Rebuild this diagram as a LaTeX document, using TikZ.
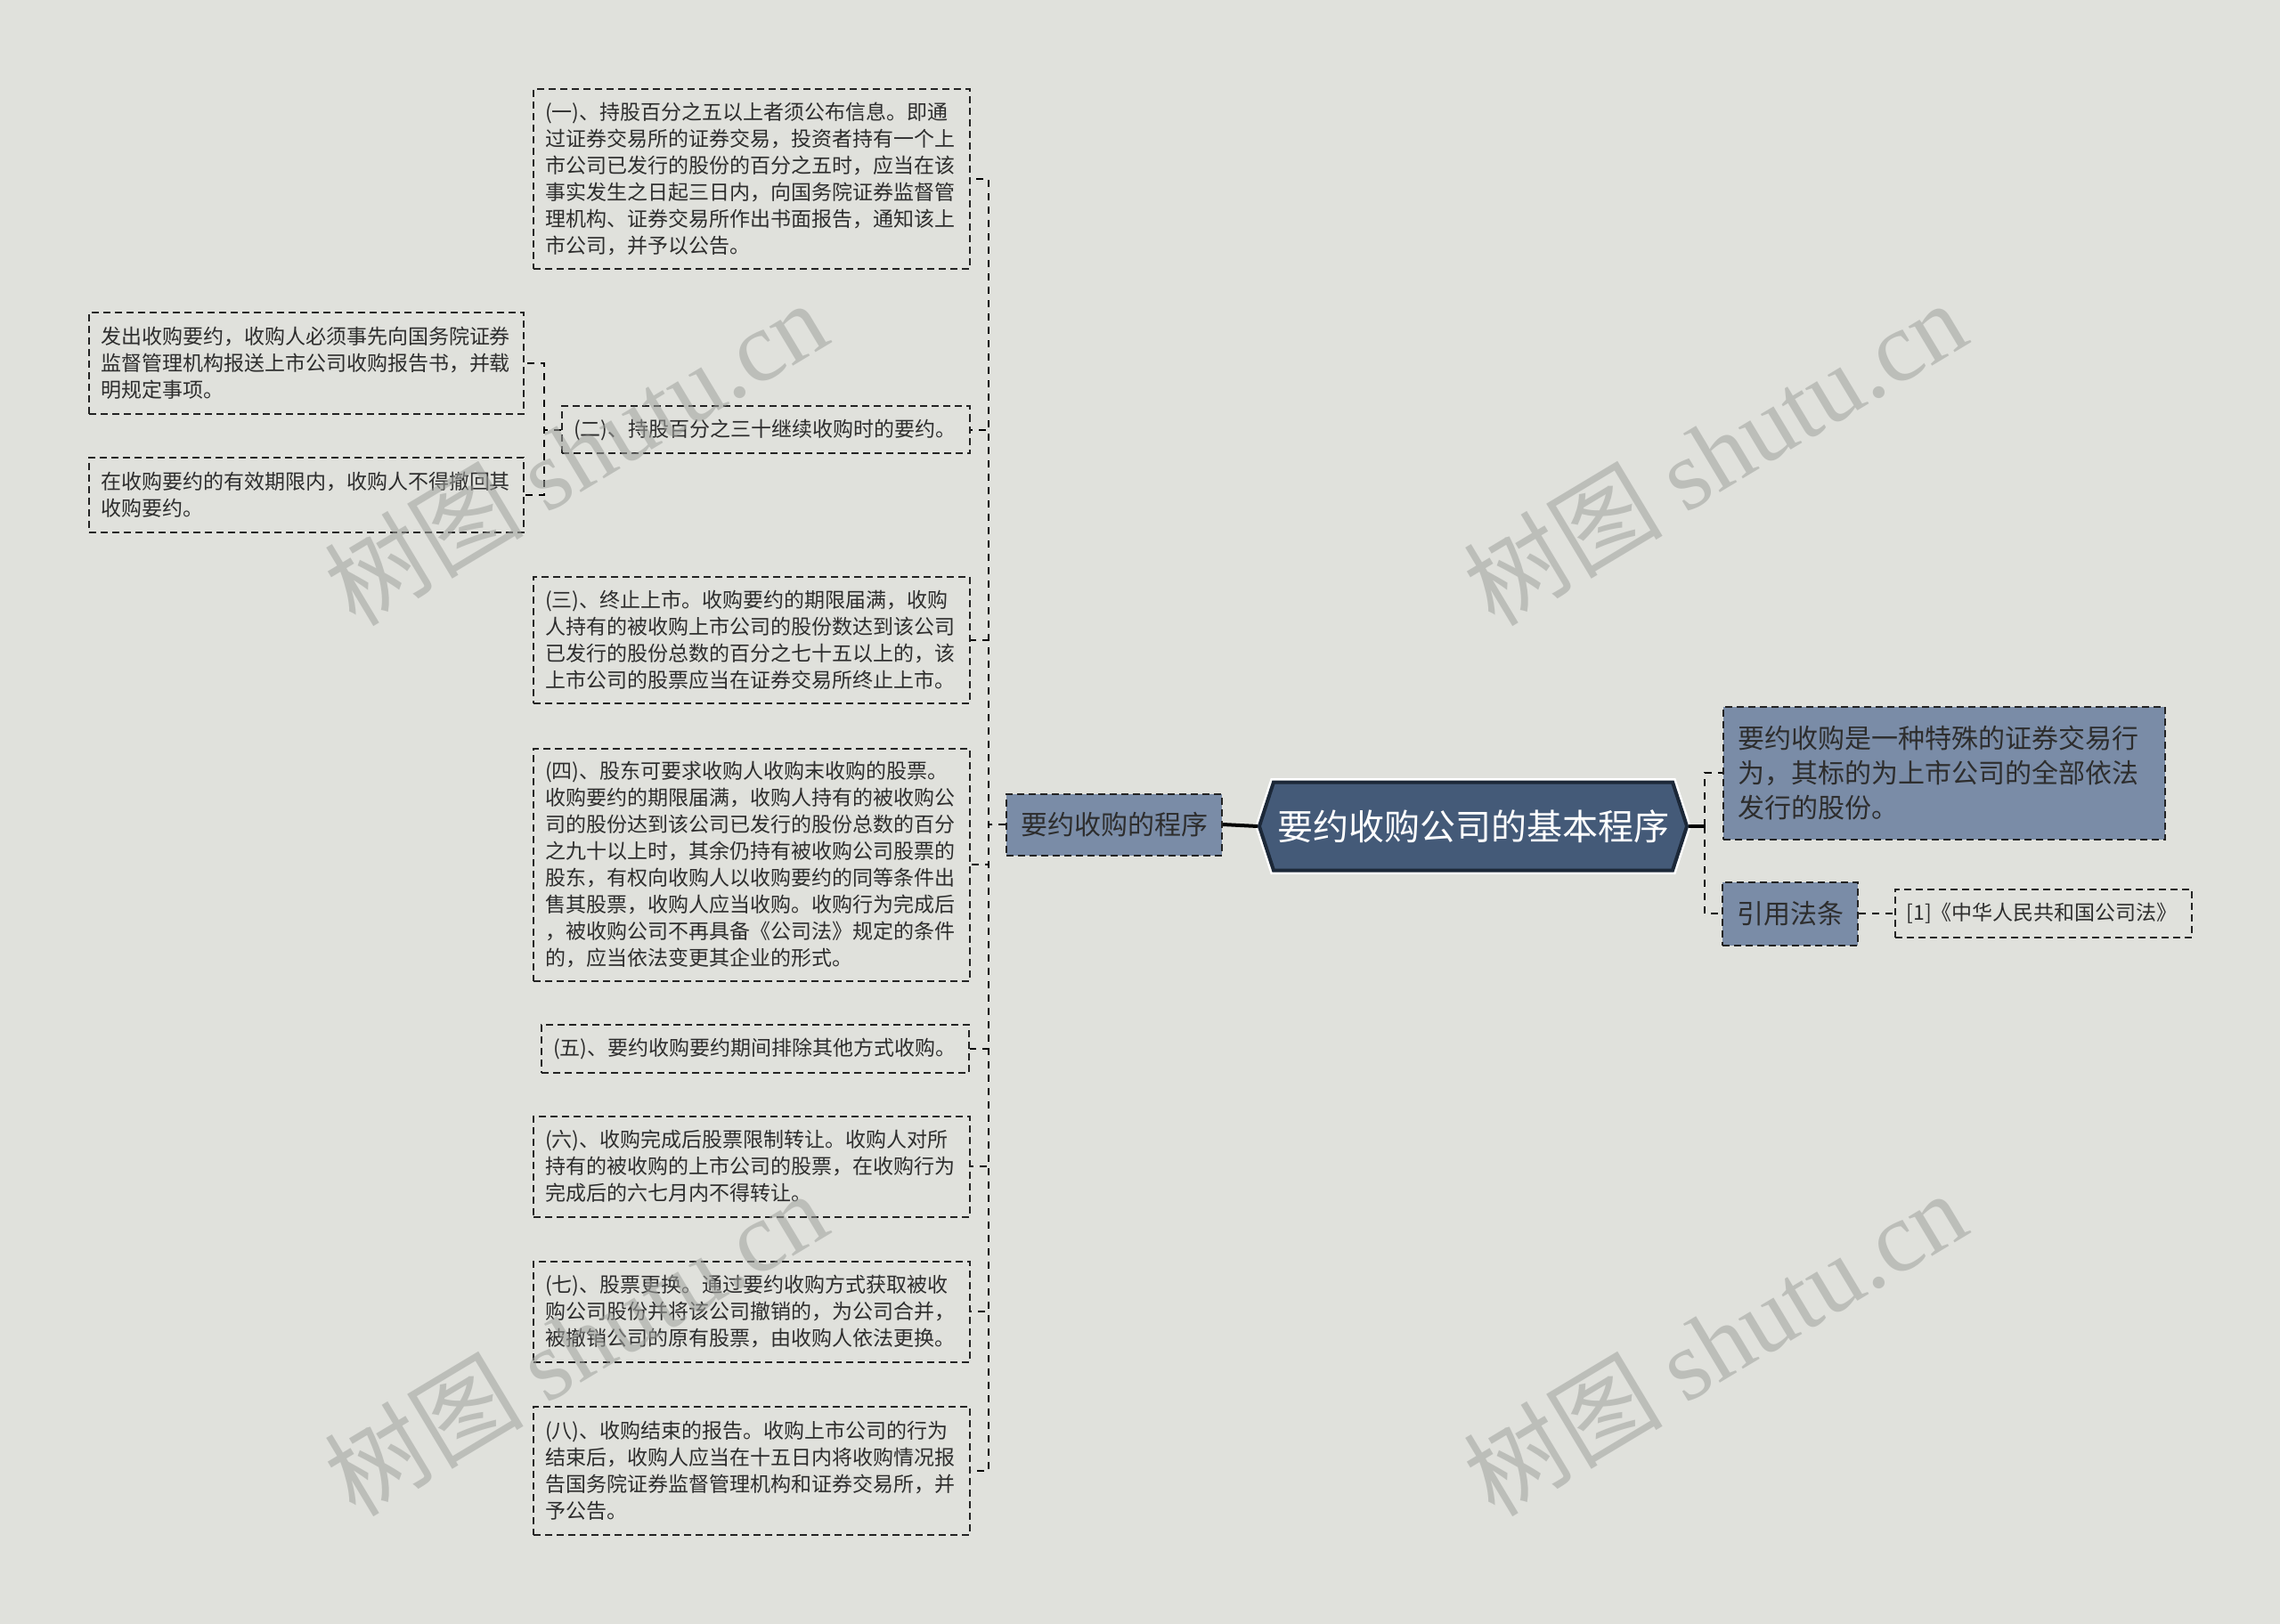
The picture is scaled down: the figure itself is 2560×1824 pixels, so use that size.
\documentclass[tikz,border=0pt]{standalone}
\usepackage{fontspec}
\setmainfont{Noto Sans CJK SC}
\newfontfamily\wmlatin{Liberation Serif}
\usepackage{tikz}
\usetikzlibrary{positioning,shapes.symbols,calc}

\definecolor{bgc}{RGB}{224,225,220}
\definecolor{slate}{RGB}{122,140,167}
\definecolor{navy}{RGB}{68,90,120}
\definecolor{navyedge}{RGB}{28,40,56}
\definecolor{ink}{RGB}{45,45,45}
\definecolor{edge}{RGB}{35,35,35}
\definecolor{wmgray}{RGB}{160,162,158}

\newcommand\leaffont{\fontsize{11.5pt}{15pt}\selectfont}
\newcommand\topicfont{\fontsize{15pt}{19.5pt}\selectfont}
\newcommand\rootfont{\fontsize{20pt}{24pt}\selectfont}

\begin{document}
\begin{tikzpicture}[x=0.5pt,y=-0.5pt,
  leaf/.style={draw=edge, line width=1pt, dash pattern=on 4pt off 2.5pt, text=ink,
    font=\leaffont, align=left, inner xsep=6.5pt, inner ysep=0pt, text width=#1},
  leaf/.default=232pt,
  topic/.style={draw=edge, fill=slate, line width=1pt, dash pattern=on 4pt off 2.5pt,
    text=ink, font=\topicfont, align=left, inner xsep=8pt, inner ysep=0pt},
  link/.style={draw=black, line width=1.3pt, dash pattern=on 4pt off 3.5pt},
  stem/.style={draw=black, line width=2pt},
  stamp/.style={text=wmgray, text opacity=0.55, rotate=31, inner sep=0pt,
    font=\fontsize{56pt}{56pt}\selectfont}]
\fill[bgc] (0,0) rectangle (2560,1824);
\useasboundingbox (0,0) rectangle (2560,1824);

\coordinate (trunkL) at (1110,0);
\coordinate (trunkM) at (611,0);
\coordinate (trunkR) at (1914,0);

\node[shape=signal, signal to=west and east, signal pointer angle=144,
  fill=navy, draw=navyedge, line width=2pt, preaction={draw=white, line width=4.5pt},
  text=white, font=\rootfont, minimum width=240pt, minimum height=49.5pt,
  inner xsep=2pt] (root) at (1654,928) {要约收购公司的基本程序};

\node[topic, minimum width=120pt, minimum height=34.5pt, align=center] (prog) at (1251,926) {要约收购的程序};

\node[leaf, minimum height=101pt] (s1) at (844,201) {(一)、持股百分之五以上者须公布信息。即通\\
过证券交易所的证券交易，投资者持有一个上\\
市公司已发行的股份的百分之五时，应当在该\\
事实发生之日起三日内，向国务院证券监督管\\
理机构、证券交易所作出书面报告，通知该上\\
市公司，并予以公告。};

\node[leaf=216pt, minimum height=26.5pt] (s2) at (860,483) {(二)、持股百分之三十继续收购时的要约。};

\node[leaf=231pt, minimum height=57pt] (c1) at (344,408) {发出收购要约，收购人必须事先向国务院证券\\
监督管理机构报送上市公司收购报告书，并载\\
明规定事项。};

\node[leaf=231pt, minimum height=42pt] (c2) at (344,556) {在收购要约的有效期限内，收购人不得撤回其\\
收购要约。};

\node[leaf, minimum height=71pt] (s3) at (844,719) {(三)、终止上市。收购要约的期限届满，收购\\
人持有的被收购上市公司的股份数达到该公司\\
已发行的股份总数的百分之七十五以上的，该\\
上市公司的股票应当在证券交易所终止上市。};

\node[leaf, minimum height=130.5pt] (s4) at (844,971) {(四)、股东可要求收购人收购末收购的股票。\\
收购要约的期限届满，收购人持有的被收购公\\
司的股份达到该公司已发行的股份总数的百分\\
之九十以上时，其余仍持有被收购公司股票的\\
股东，有权向收购人以收购要约的同等条件出\\
售其股票，收购人应当收购。收购行为完成后\\
，被收购公司不再具备《公司法》规定的条件\\
的，应当依法变更其企业的形式。};

\node[leaf=227pt, minimum height=27pt] (s5) at (848,1178) {(五)、要约收购要约期间排除其他方式收购。};

\node[leaf, minimum height=56.5pt] (s6) at (844,1310) {(六)、收购完成后股票限制转让。收购人对所\\
持有的被收购的上市公司的股票，在收购行为\\
完成后的六七月内不得转让。};

\node[leaf, minimum height=56.5pt] (s7) at (844,1473) {(七)、股票更换。通过要约收购方式获取被收\\
购公司股份并将该公司撤销的，为公司合并，\\
被撤销公司的原有股票，由收购人依法更换。};

\node[leaf, minimum height=72pt] (s8) at (844,1652) {(八)、收购结束的报告。收购上市公司的行为\\
结束后，收购人应当在十五日内将收购情况报\\
告国务院证券监督管理机构和证券交易所，并\\
予公告。};

\node[topic, text width=232pt, minimum height=74.5pt] (defn) at (2183,868) {要约收购是一种特殊的证券交易行\\
为，其标的为上市公司的全部依法\\
发行的股份。};

\node[topic, minimum width=75pt, minimum height=35.5pt] (law) at (2010,1026) {引用法条};

\node[leaf=153.5pt, minimum height=27pt] (ref) at (2294,1026) {[1]《中华人民共和国公司法》};

\draw[stem] (prog.east) -- (root.west);
\draw[stem] (root.east) -- (root.east -| trunkR);
\draw[link] (root.east -| trunkR) |- (defn.west);
\draw[link] (root.east -| trunkR) |- (law.west);
\draw[link] (law.east) -- (ref.west);

\foreach \s in {s1,s2,s3,s4,s5,s6,s7,s8}
  \draw[link] (prog.west) -- (prog.west -| trunkL) |- (\s.east);
\draw[link] (s2.west) -- (s2.west -| trunkM) |- (c1.east);
\draw[link] (s2.west) -- (s2.west -| trunkM) |- (c2.east);

\node[stamp] (w1) at (646,508) {树图 {\wmlatin shutu.cn}};
\node[stamp] (w2) at (1925,508) {树图 {\wmlatin shutu.cn}};
\node[stamp] (w3) at (646,1508) {树图 {\wmlatin shutu.cn}};
\node[stamp] (w4) at (1925,1508) {树图 {\wmlatin shutu.cn}};
\end{tikzpicture}
\end{document}
